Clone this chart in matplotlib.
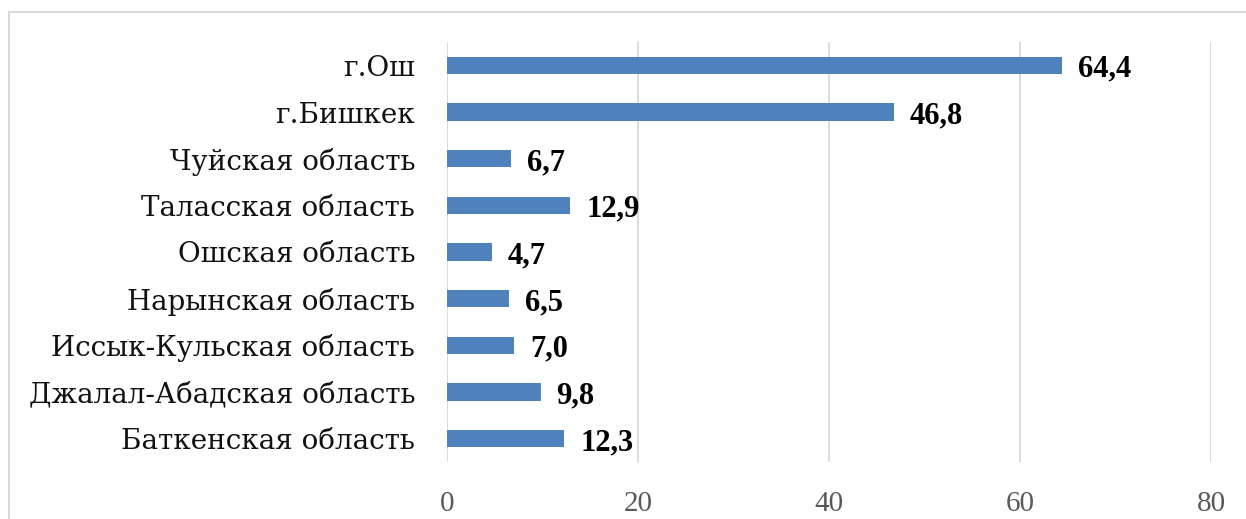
import matplotlib
matplotlib.use("Agg")
import matplotlib.pyplot as plt
from matplotlib.patches import Rectangle

categories = ["Баткенская область", "Джалал-Абадская область", "Иссык-Кульская область",
              "Нарынская область", "Ошская область", "Таласская область",
              "Чуйская область", "г.Бишкек", "г.Ош"]
values = [12.3, 9.8, 7.0, 6.5, 4.7, 12.9, 6.7, 46.8, 64.4]
value_labels = ["12,3", "9,8", "7,0", "6,5", "4,7", "12,9", "6,7", "46,8", "64,4"]
xticks = [0, 20, 40, 60, 80]

W, H = 1246, 519
fig = plt.figure(figsize=(W / 100, H / 100), dpi=100)
fig.patch.set_facecolor("white")

# outer chart border (cropped on right and bottom)
fig.patches.append(Rectangle((9 / W, -0.1), 1.2, (1 - 12 / H) + 0.1,
                             transform=fig.transFigure, fill=False,
                             edgecolor="#d9d9d9", linewidth=1.5))

ax = fig.add_axes([447 / W, 1 - 462 / H, (1211 - 447) / W, (462 - 42) / H])
y = list(range(len(categories)))
ax.barh(y, values, height=0.37, color="#4f81bd", zorder=3)
ax.set_xlim(0, 80)
ax.set_ylim(-0.5, len(categories) - 0.5)
ax.set_yticks(y)
ax.set_yticklabels(categories, fontfamily="DejaVu Serif", fontsize=20, color="#111111")
ax.set_xticks(xticks)
ax.set_xticklabels([str(t) for t in xticks], fontfamily="Liberation Serif",
                   fontsize=21, color="#595959")
ax.tick_params(axis="y", length=0, pad=23)
ax.tick_params(axis="x", length=0, pad=21)
for s in ax.spines.values():
    s.set_visible(False)
ax.grid(axis="x", color="#d9d9d9", linewidth=1.3, zorder=0)
ax.set_axisbelow(True)

for yi, v, lab in zip(y, values, value_labels):
    ax.annotate(lab, (v, yi), xytext=(16, -4), textcoords="offset pixels",
                ha="left", va="center", fontfamily="Liberation Serif",
                fontweight="bold", fontsize=22, color="black")

fig.savefig("out.png", dpi=100)
